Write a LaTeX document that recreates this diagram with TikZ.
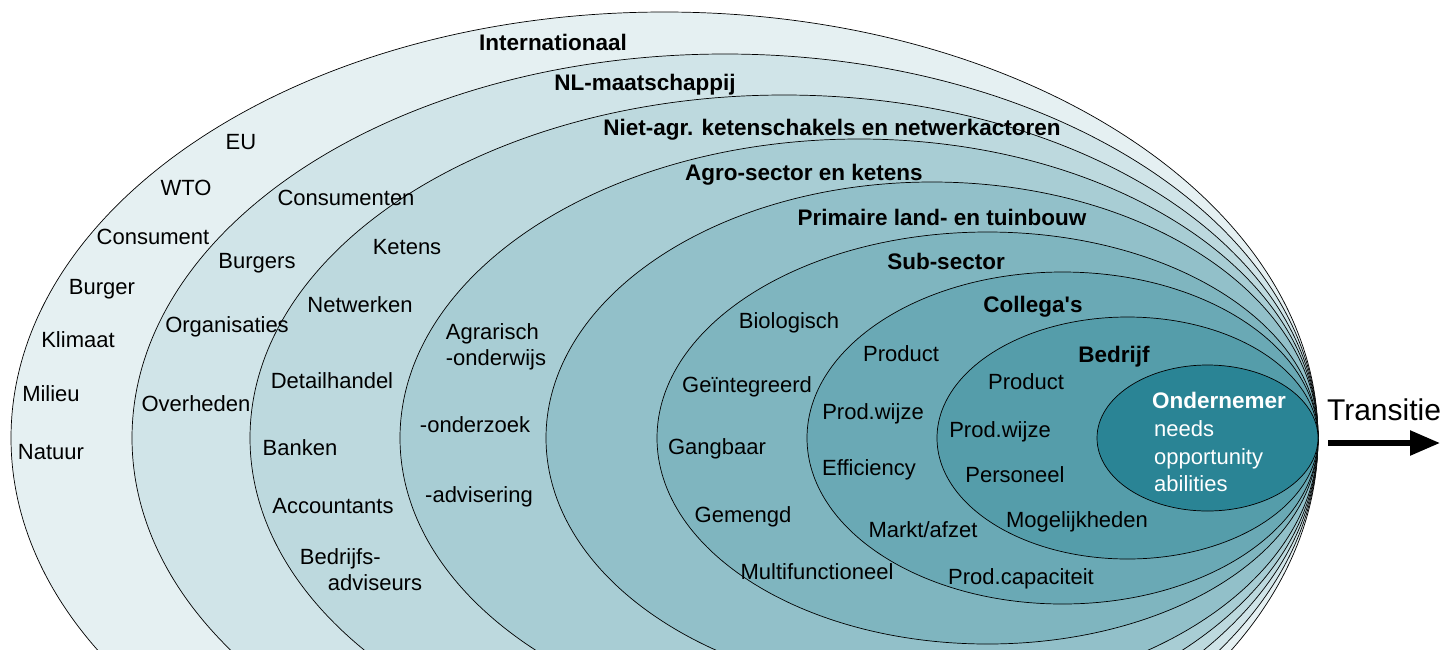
\documentclass[tikz,border=0pt]{standalone}
\usepackage{fontspec}
\setmainfont{Liberation Sans}
\usepackage{tikz}
\usetikzlibrary{arrows.meta}
\definecolor{lbteal}{RGB}{42,132,149}

\begin{document}
\begin{tikzpicture}[x=1pt, y=-1pt,
    ring/.style={draw=black, line width=0.7pt},
    item/.style={font=\fontsize{22}{26}\selectfont, text height=15pt, text depth=0pt, inner sep=0pt},
    layer/.style={item, font=\bfseries\fontsize{22.5}{26}\selectfont},
    block/.style={font=\fontsize{22}{26}\selectfont, align=left, inner sep=0pt}]
  \clip (0,0) rectangle (1440,649);
  % nested layers, all touching at the right
  \filldraw[ring, fill=lbteal!12] (664.5,438)  ellipse [x radius=653.5pt, y radius=426pt];
  \filldraw[ring, fill=lbteal!22] (725,438)    ellipse [x radius=593pt,   y radius=384pt];
  \filldraw[ring, fill=lbteal!31] (784,438)    ellipse [x radius=534pt,   y radius=343pt];
  \filldraw[ring, fill=lbteal!41] (859,438)    ellipse [x radius=459pt,   y radius=299pt];
  \filldraw[ring, fill=lbteal!51] (932,438)    ellipse [x radius=386pt,   y radius=256pt];
  \filldraw[ring, fill=lbteal!60] (987.5,438)  ellipse [x radius=330.5pt, y radius=206pt];
  \filldraw[ring, fill=lbteal!70] (1062.5,438) ellipse [x radius=255.5pt, y radius=166pt];
  \filldraw[ring, fill=lbteal!80] (1127.5,438) ellipse [x radius=190.5pt, y radius=121pt];
  \filldraw[ring, fill=lbteal]    (1207.5,438) ellipse [x radius=110.5pt, y radius=73pt];

  % layer titles
  \node[layer] (internationaal) at (553,43)  {Internationaal};
  \node[layer] (nl)             at (645,83)  {NL-maatschappij};
  \node[layer] (nietagr)        at (832,128) {Niet-agr. ketenschakels en netwerkactoren};
  \node[layer] (agro)           at (804,173) {Agro-sector en ketens};
  \node[layer] (primair)        at (942,218) {Primaire land- en tuinbouw};
  \node[layer] (subsector)      at (946,262) {Sub-sector};
  \node[layer] (collegas)       at (1033,305) {Collega\textquotesingle s};
  \node[layer] (bedrijf)        at (1114,355) {Bedrijf};
  \node[layer, text=white] (ondernemer) at (1219,401) {Ondernemer};

  % internationaal
  \node[item] (eu)       at (241,142) {EU};
  \node[item] (wto)      at (186,188) {WTO};
  \node[item] (consument) at (153,237) {Consument};
  \node[item] (burger)   at (102,287) {Burger};
  \node[item] (klimaat)  at (78,340)  {Klimaat};
  \node[item] (milieu)   at (51,394)  {Milieu};
  \node[item] (natuur)   at (51,452)  {Natuur};

  % NL-maatschappij
  \node[item] (consumenten)  at (346,198) {Consumenten};
  \node[item] (burgers)      at (257,261) {Burgers};
  \node[item] (organisaties) at (227,325) {Organisaties};
  \node[item] (overheden)    at (196,404) {Overheden};

  % niet-agrarische ketenschakels
  \node[item] (ketens)      at (407,247) {Ketens};
  \node[item] (netwerken)   at (360,305) {Netwerken};
  \node[item] (detail)      at (332,381) {Detailhandel};
  \node[item] (banken)      at (300,448) {Banken};
  \node[item] (accountants) at (333,506) {Accountants};
  \node[block] (adviseurs)  at (361,570) {Bedrijfs-\\\hspace*{28pt}adviseurs};

  % agro-sector
  \node[block] (onderwijs)  at (496,347) {Agrarisch\\-onderwijs};
  \node[item] (onderzoek)   at (475,425) {-onderzoek};
  \node[item] (advisering)  at (479,495) {-advisering};

  % sub-sector
  \node[item] (bio)     at (789,321) {Biologisch};
  \node[item] (geint)   at (747,385) {Geïntegreerd};
  \node[item] (gangb)   at (717,447) {Gangbaar};
  \node[item] (gemengd) at (743,515) {Gemengd};
  \node[item] (multi)   at (817,572) {Multifunctioneel};

  % collega's
  \node[item] (cproduct) at (901,354)  {Product};
  \node[item] (cwijze)   at (873,412)  {Prod.wijze};
  \node[item] (ceff)     at (869,468)  {Efficiency};
  \node[item] (cmarkt)   at (923,530)  {Markt/afzet};
  \node[item] (ccap)     at (1021,577) {Prod.capaciteit};

  % bedrijf
  \node[item] (bproduct) at (1026,382) {Product};
  \node[item] (bwijze)   at (1000,430) {Prod.wijze};
  \node[item] (bpers)    at (1015,475) {Personeel};
  \node[item] (bmogel)   at (1077,520) {Mogelijkheden};

  % ondernemer
  \node[item, text=white, anchor=west] (needs) at (1154,429) {needs};
  \node[item, text=white, anchor=west] (opp)   at (1154,457) {opportunity};
  \node[item, text=white, anchor=west] (abil)  at (1154,484) {abilities};

  % transitie
  \node[item, font=\fontsize{30}{34}\selectfont, text height=21pt] (transitie) at (1384,410) {Transitie};
  \coordinate (tfrom) at (1328,443);
  \coordinate (tto)   at (1440,443);
  \draw[line width=5.5pt, -{Triangle[length=30pt, width=24pt]}] (tfrom) -- (tto);
\end{tikzpicture}
\end{document}
